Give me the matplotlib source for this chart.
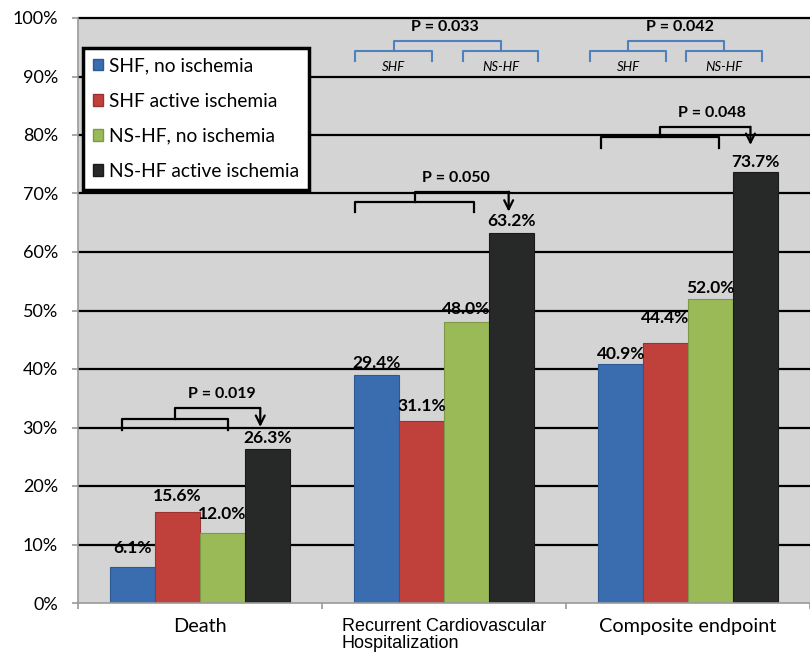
import numpy as np
import matplotlib.pyplot as plt
from matplotlib.patches import Patch

plt.rcParams['font.family'] = ['Lato', 'DejaVu Sans']

categories = ["Death", "Recurrent Cardiovascular\nHospitalization", "Composite endpoint"]
series_names = ["SHF, no ischemia", "SHF active ischemia", "NS-HF, no ischemia", "NS-HF active ischemia"]
# bar heights as drawn in the picture (%)
shf_no = [6.1, 39.0, 40.9]
shf_active = [15.6, 31.1, 44.4]
nshf_no = [12.0, 48.0, 52.0]
nshf_active = [26.3, 63.2, 73.7]
# labels printed on the bars
label_text = [["6.1%", "29.4%", "40.9%"],
              ["15.6%", "31.1%", "44.4%"],
              ["12.0%", "48.0%", "52.0%"],
              ["26.3%", "63.2%", "73.7%"]]
p_black = ["P = 0.019", "P = 0.050", "P = 0.048"]
p_blue = {1: "P = 0.033", 2: "P = 0.042"}

colors = ["#3a6db0", "#c0403c", "#9aba58", "#272929"]
edges = ["#2d5a94", "#9c3230", "#7d9846", "#1a1a1a"]
# vertical offset of each value label (points)
label_dy = [[10.0, 5.0, 3.6], [7.6, 7.2, 14.3], [9.6, 5.6, 4.3], [4.3, 5.6, 3.6]]

fig = plt.figure(figsize=(8.1, 6.59), dpi=100)
ax = fig.add_axes([78 / 810, 1 - 603 / 659, 732 / 810, 585 / 659])
ax.set_facecolor("#d4d4d4")

x = np.arange(len(categories))
w = 0.1836
values = [shf_no, shf_active, nshf_no, nshf_active]
for i, vals in enumerate(values):
    pos = x + (i - 1.5) * w
    ax.bar(pos, vals, width=w, color=colors[i], edgecolor=edges[i], linewidth=0.8, zorder=3)
    for j, v in enumerate(vals):
        ax.annotate(label_text[i][j], (pos[j], v), xytext=(0, label_dy[i][j]),
                    textcoords="offset points", ha="center", va="baseline",
                    fontsize=12.5, fontweight="bold", zorder=5)

# horizontal gridlines
ax.hlines(np.arange(10, 101, 10), -0.5, 2.5, colors="black", linewidth=1.6, zorder=1, clip_on=False)

ax.set_xlim(-0.5, 2.468)
ax.set_ylim(0, 100)
ax.set_yticks(np.arange(0, 101, 10))
ax.set_yticklabels([f"{t}%" for t in range(0, 101, 10)])
ax.set_xticks(x)
ax.set_xticks([-0.5, 0.5, 1.5, 2.5], minor=True)
ax.tick_params(axis="y", direction="out", length=4.5, color="#9a9a9a", width=1.2,
               labelsize=13, pad=10)
ax.tick_params(axis="x", which="major", length=0, labelsize=14.3, pad=11)
ax.tick_params(axis="x", which="minor", direction="out", length=4.5, color="#9a9a9a", width=1.2)
ax.set_xticklabels(categories, multialignment="left", linespacing=1.0)
for lab in ax.get_xticklabels():
    if "Recurrent" in lab.get_text():
        lab.set_family(["Liberation Sans", "DejaVu Sans"])
        lab.set_fontsize(13)
for s in ["top", "right"]:
    ax.spines[s].set_visible(False)
for s in ["left", "bottom"]:
    ax.spines[s].set_color("#9a9a9a")
    ax.spines[s].set_linewidth(1.2)
    ax.spines[s].set_zorder(4)


def black_bracket(g, lo, hi, ylo, ytop, yend, xarrow, yarrow, txt, tx, ty):
    k = dict(color="black", linewidth=1.6, zorder=4)
    a, b = g + lo, g + hi
    mid = (a + b) / 2
    ax.plot([a, a, b, b], [yend, ylo, ylo, yend], **k)
    ax.plot([mid, mid, g + xarrow], [ylo, ytop, ytop], **k)
    ax.annotate("", xy=(g + xarrow, yarrow), xytext=(g + xarrow, ytop),
                arrowprops=dict(arrowstyle="->", color="black", lw=1.6,
                                mutation_scale=16, shrinkA=0, shrinkB=0), zorder=4)
    ax.text(g + tx, ty, txt, ha="center", va="center", fontsize=11.5, fontweight="bold", zorder=5)


black_bracket(0, -0.32, 0.113, 31.45, 33.3, 29.6, 0.247, 30.1, p_black[0], 0.09, 35.7)
black_bracket(1, -0.363, 0.124, 68.5, 70.3, 66.8, 0.265, 66.9, p_black[1], 0.047, 72.6)
black_bracket(2, -0.355, 0.127, 79.6, 81.4, 77.8, 0.256, 78.3, p_black[2], 0.098, 83.8)


def blue_bracket(g, l1, l2, r1, r2, txt, tx):
    k = dict(color="#4f81bd", linewidth=1.5, zorder=4)
    ytop, ylo, yend = 96.1, 94.4, 92.6
    ax.plot([g + l1, g + l1, g + l2, g + l2], [yend, ylo, ylo, yend], **k)
    ax.plot([g + r1, g + r1, g + r2, g + r2], [yend, ylo, ylo, yend], **k)
    cl, cr = g + (l1 + l2) / 2, g + (r1 + r2) / 2
    ax.plot([cl, cl, cr, cr], [ylo, ytop, ytop, ylo], **k)
    ax.text(g + tx, 98.5, txt, ha="center", va="center", fontsize=11.5, fontweight="bold", zorder=5)
    ax.text(cl, 91.6, "SHF", ha="center", va="center", fontsize=9.5, style="italic", zorder=5)
    ax.text(cr, 91.6, "NS-HF", ha="center", va="center", fontsize=9.5, style="italic", zorder=5)


blue_bracket(1, -0.363, -0.05, 0.079, 0.387, p_blue[1], 0.002)
blue_bracket(2, -0.4, -0.092, -0.007, 0.305, p_blue[2], -0.031)

handles = [Patch(facecolor=colors[i], edgecolor=edges[i]) for i in range(4)]
leg = ax.legend(handles, series_names, loc="upper left", bbox_to_anchor=(0.007, 0.949),
                fontsize=13.8, frameon=True, fancybox=False, handlelength=0.55, handleheight=0.55,
                handletextpad=0.3, labelspacing=0.95, borderpad=0.5, borderaxespad=0)
leg.get_frame().set_edgecolor("black")
leg.get_frame().set_linewidth(2.5)
leg.get_frame().set_facecolor("white")
leg.get_frame().set_alpha(1)
leg.set_zorder(6)

fig.savefig("out.png", dpi=100)
